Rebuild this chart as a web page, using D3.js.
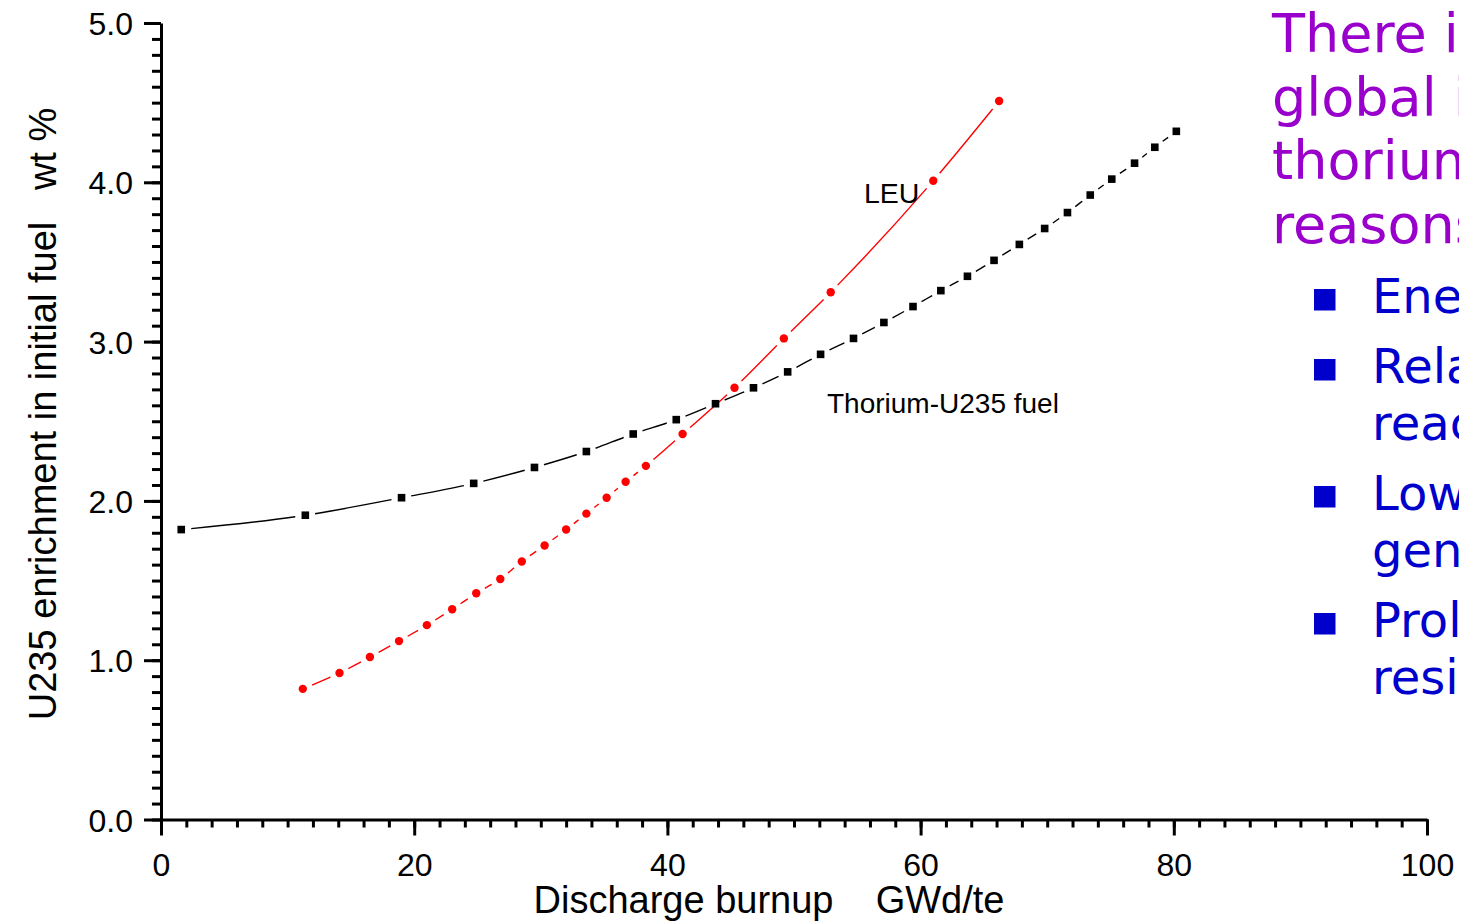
<!DOCTYPE html>
<html>
<head>
<meta charset="utf-8">
<script src="https://cdn.jsdelivr.net/npm/d3@7"></script>
<style>
  body { margin: 0; background: #fff; }
  svg { display: block; }
  text { white-space: pre; }
</style>
</head>
<body>
<div id="chart"></div>
<script>
// values
const thoriumBurnup = [1.6, 11.4, 19.0, 24.7, 29.5, 33.6, 37.3, 40.7, 43.8, 46.8, 49.5, 52.1, 54.7,
  57.1, 59.4, 61.6, 63.7, 65.8, 67.8, 69.8, 71.6, 73.4, 75.1, 76.9, 78.5, 80.2];
const thoriumEnrich = [1.82, 1.91, 2.02, 2.11, 2.21, 2.31, 2.42, 2.51, 2.61, 2.71, 2.81, 2.92, 3.02,
  3.12, 3.22, 3.32, 3.41, 3.51, 3.61, 3.71, 3.81, 3.92, 4.02, 4.12, 4.22, 4.32];

const leuBurnup = [11.2, 14.1, 16.5, 18.8, 21.0, 23.0, 24.9, 26.8, 28.5, 30.3, 32.0, 33.6, 35.2,
  36.7, 38.3, 41.2, 45.3, 49.2, 52.9, 61.0, 66.2];
const leuEnrich = [0.82, 0.92, 1.02, 1.12, 1.22, 1.32, 1.42, 1.51, 1.62, 1.72, 1.82, 1.92, 2.02,
  2.12, 2.22, 2.42, 2.71, 3.02, 3.31, 4.01, 4.51];

const xMajorTicks = [0, 20, 40, 60, 80, 100];
const yMajorTicks = [0, 1, 2, 3, 4, 5];

const titleLines = ["There is growing", "global interest in", "thorium for several", "reasons:"];
const bulletItems = [
  ["Energy security"],
  ["Relatively simple", "reactor adoption"],
  ["Lower waste", "generation"],
  ["Proliferation", "resistance"]
];

const W = 1459, H = 921;
const font = "'Liberation Sans', Arial, sans-serif";

const svg = d3.select('#chart').append('svg')
  .attr('width', W)
  .attr('height', H);

const x = d3.scaleLinear().domain([0, 100]).range([161, 1427]);
const y = d3.scaleLinear().domain([0, 5]).range([819.5, 23]);

// axes: minor ticks first, then majors with labels
const styleAxis = (g) => {
  g.selectAll('path.domain').attr('stroke', '#000').attr('stroke-width', 3);
  g.selectAll('.tick line').attr('stroke', '#000').attr('stroke-width', 3);
  g.selectAll('.tick text').attr('font-family', font).attr('font-size', 32).attr('fill', '#000');
};

svg.append('g')
  .attr('transform', `translate(0,${y(0)})`)
  .call(d3.axisBottom(x).tickValues(d3.range(0, 101, 2)).tickSize(8).tickSizeOuter(0).tickFormat(''))
  .call(styleAxis);

const xAxis = svg.append('g')
  .attr('transform', `translate(0,${y(0)})`)
  .call(d3.axisBottom(x).tickValues(xMajorTicks).tickSize(16).tickSizeOuter(0).tickFormat(d3.format('d')))
  .call(styleAxis);
xAxis.select('path.domain').remove();
xAxis.selectAll('.tick text').attr('y', 56).attr('dy', 0);

svg.append('g')
  .attr('transform', `translate(${x(0)},0)`)
  .call(d3.axisLeft(y).tickValues(d3.range(0, 51).map(d => d / 10)).tickSize(9).tickSizeOuter(0).tickFormat(''))
  .call(styleAxis);

const yAxis = svg.append('g')
  .attr('transform', `translate(${x(0)},0)`)
  .call(d3.axisLeft(y).tickValues(yMajorTicks).tickSize(17).tickSizeOuter(0).tickFormat(d3.format('.1f')))
  .call(styleAxis);
yAxis.select('path.domain').remove();
yAxis.selectAll('.tick text').attr('x', -28).attr('dy', '0.36em');

// axis titles
svg.append('text')
  .attr('x', 769).attr('y', 913)
  .attr('text-anchor', 'middle')
  .attr('font-family', font).attr('font-size', 38)
  .text('Discharge burnup    GWd/te');

svg.append('text')
  .attr('transform', 'translate(56,414) rotate(-90)')
  .attr('text-anchor', 'middle')
  .attr('font-family', font).attr('font-size', 38)
  .text('U235 enrichment in initial fuel   wt %');

// series: curve drawn through the points, broken around every marker
const gap = 10;
function drawSeries(xs, ys, color) {
  const pts = xs.map((d, i) => [x(d), y(ys[i])]);
  const line = d3.line().curve(d3.curveMonotoneX);
  const path = svg.append('path')
    .attr('d', line(pts))
    .attr('fill', 'none')
    .attr('stroke', color)
    .attr('stroke-width', 1.4);

  const node = path.node();
  const total = node.getTotalLength();
  const lens = [];
  let k = 0;
  for (let l = 0; l <= total && k < pts.length; l += 0.25) {
    const p = node.getPointAtLength(l);
    while (k < pts.length && p.x >= pts[k][0]) { lens.push(l); k++; }
  }
  while (lens.length < pts.length) lens.push(total);

  const dash = [0, gap];
  for (let i = 1; i < lens.length; i++) {
    const seg = lens[i] - lens[i - 1];
    dash.push(Math.max(0, seg - 2 * gap), 2 * gap);
  }
  path.attr('stroke-dasharray', dash.join(' '));
  return pts;
}

const thPts = drawSeries(thoriumBurnup, thoriumEnrich, '#000');
const leuPts = drawSeries(leuBurnup, leuEnrich, '#ff0000');

svg.append('g').selectAll('rect')
  .data(thPts)
  .join('rect')
  .attr('x', d => d[0] - 3.8)
  .attr('y', d => d[1] - 3.8)
  .attr('width', 7.6)
  .attr('height', 7.6)
  .attr('fill', '#000');

svg.append('g').selectAll('circle')
  .data(leuPts)
  .join('circle')
  .attr('cx', d => d[0])
  .attr('cy', d => d[1])
  .attr('r', 4.2)
  .attr('fill', '#ff0000');

// curve labels
svg.append('text')
  .attr('x', 864).attr('y', 203)
  .attr('font-family', font).attr('font-size', 28.5)
  .text('LEU');

svg.append('text')
  .attr('x', 827).attr('y', 413)
  .attr('font-family', font).attr('font-size', 28)
  .text('Thorium-U235 fuel');

// slide text on the right
const side = svg.append('g').attr('font-family', "'DejaVu Sans', Verdana, sans-serif");

side.selectAll('text.title')
  .data(titleLines)
  .join('text')
  .attr('class', 'title')
  .attr('x', 1272)
  .attr('y', (d, i) => 52 + i * 63.7)
  .attr('font-size', 54)
  .attr('fill', '#9900cc')
  .text(d => d);

let by = 313;
bulletItems.forEach((item) => {
  side.append('rect')
    .attr('x', 1314).attr('y', by - 24)
    .attr('width', 21.5).attr('height', 21.5)
    .attr('fill', '#0000cc');
  item.forEach((t, j) => {
    side.append('text')
      .attr('x', 1372)
      .attr('y', by + j * 57)
      .attr('font-size', 48)
      .attr('fill', '#0000cc')
      .text(t);
  });
  by += (item.length - 1) * 57 + 70;
});
</script>
</body>
</html>
